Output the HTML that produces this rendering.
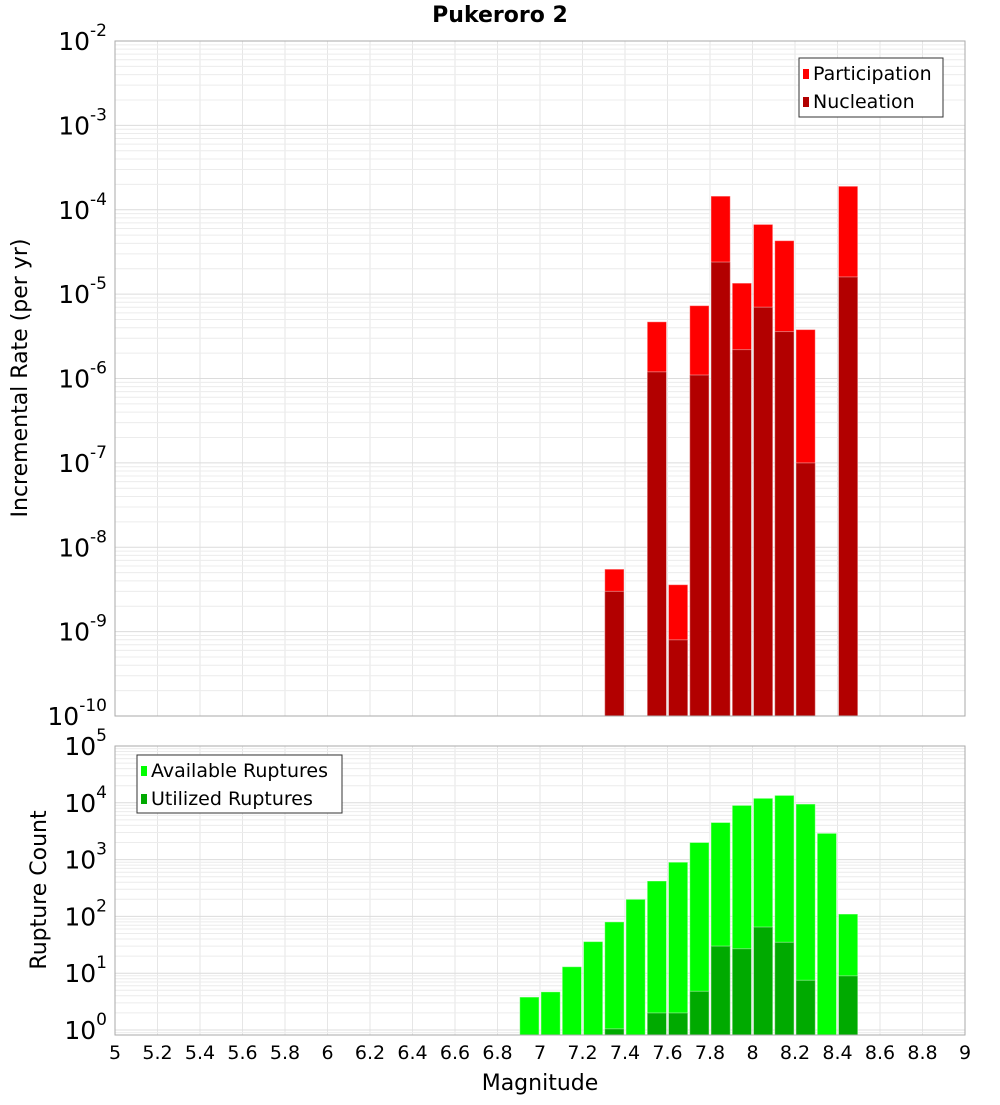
<!DOCTYPE html>
<html><head><meta charset="utf-8"><style>
body{margin:0;background:#fff;font-family:"Liberation Sans","DejaVu Sans",sans-serif}
svg text{font-family:"DejaVu Sans","Liberation Sans",sans-serif}
</style></head><body>
<svg id="c" width="1000" height="1100" xmlns="http://www.w3.org/2000/svg">
<text x="500" y="22" text-anchor="middle" font-size="22" font-weight="bold">Pukeroro 2</text>
</svg>
<script>
const mags = [7.35,7.55,7.65,7.75,7.85,7.95,8.05,8.15,8.25,8.45];
const participation = [5.5e-9,4.7e-6,3.6e-9,7.3e-6,1.45e-4,1.35e-5,6.7e-5,4.3e-5,3.8e-6,1.9e-4];
const nucleation = [3e-9,1.2e-6,8e-10,1.1e-6,2.4e-5,2.2e-6,7e-6,3.6e-6,1e-7,1.6e-5];
const countMags = [6.95,7.05,7.15,7.25,7.35,7.45,7.55,7.65,7.75,7.85,7.95,8.05,8.15,8.25,8.35,8.45];
const available = [3.8,4.7,13,36,80,200,420,900,2000,4500,9000,12000,13500,9500,2900,110];
const utilizedMags = [7.35,7.55,7.65,7.75,7.85,7.95,8.05,8.15,8.25,8.45];
const utilized = [1.05,2,2,4.8,30,27,65,35,7.5,9];
const xTicks = [5,5.2,5.4,5.6,5.8,6,6.2,6.4,6.6,6.8,7,7.2,7.4,7.6,7.8,8,8.2,8.4,8.6,8.8,9];
const topExps = [-10,-9,-8,-7,-6,-5,-4,-3,-2];
const botExps = [0,1,2,3,4,5];

const svg = document.getElementById('c');
const NS = 'http://www.w3.org/2000/svg';
function el(t, a, txt){const e=document.createElementNS(NS,t);for(const k in a)e.setAttribute(k,a[k]);if(txt!==undefined)e.textContent=txt;svg.appendChild(e);return e;}
const X0=115,X1=965;
const x = m => X0+(m-5)/4*(X1-X0);
// top axis
const T0=41,T1=716;
const yTop = v => T0+(-2-Math.log10(v))/8*(T1-T0);
// bottom axis: 10^5 at 746, 10^0 at 1030, bottom 1035
const B0=746,B1=1035,BD=(1030-746)/5;
const yBot = v => 1030-Math.log10(v)*BD;

function grid(top,bot,yf,decLo,decHi){
  for(const t of xTicks){const l=el('line',{x1:x(t),x2:x(t),y1:top,y2:bot,stroke:'#e6e6e6','stroke-width':1});
    }
  for(let d=decLo;d<=decHi;d++){for(let k=1;k<10;k++){const v=k*Math.pow(10,d);const yy=yf(v);
    if(yy<top-0.5||yy>bot+0.5)continue;
    const l=el('line',{x1:X0,x2:X1,y1:yy,y2:yy,stroke:k==1?'#dcdcdc':'#ececec','stroke-width':1});
    }}
}
grid(T0,T1,yTop,-11,-2);
grid(B0,B1,yBot,-1,5);

function bar(m,v,yf,base,color,name){
  const y=yf(v);const r=el('rect',{x:x(m-0.05)+1,y:y,width:x(m+0.05)-x(m-0.05)-2,height:base-y,fill:color,stroke:'rgba(255,255,255,0.4)','stroke-width':1});
  
}
mags.forEach((m,i)=>bar(m,participation[i],yTop,T1,'#ff0000','participation-bar'));
mags.forEach((m,i)=>bar(m,nucleation[i],yTop,T1,'#b20000','nucleation-bar'));
countMags.forEach((m,i)=>bar(m,available[i],yBot,B1,'#00ff00','available-bar'));
utilizedMags.forEach((m,i)=>bar(m,utilized[i],yBot,B1,'#00aa00','utilized-bar'));

// frames
let f=el('rect',{x:X0,y:T0,width:X1-X0,height:T1-T0,fill:'none',stroke:'#aaaaaa'});

f=el('rect',{x:X0,y:B0,width:X1-X0,height:B1-B0,fill:'none',stroke:'#aaaaaa'});


// y tick labels
function ylab(e,yy,name){
  const t=el('text',{x:107,y:yy+9,'text-anchor':'end','font-size':25});
  
  const a=document.createElementNS(NS,'tspan');a.textContent='10';t.appendChild(a);
  const b=document.createElementNS(NS,'tspan');b.setAttribute('dy','-14');b.setAttribute('font-size','17');b.textContent=String(e).replace('-','-');t.appendChild(b);
}
topExps.forEach(e=>ylab(e,yTop(Math.pow(10,e)),'top-y-tick-label'));
botExps.forEach(e=>ylab(e,yBot(Math.pow(10,e)),'bottom-y-tick-label'));
// x tick labels
xTicks.forEach(t=>{const l=el('text',{x:x(t),y:1059,'text-anchor':'middle','font-size':19},String(t));
  });

// axis titles
let a=el('text',{x:540,y:1090,'text-anchor':'middle','font-size':22},'Magnitude');

a=el('text',{x:0,y:0,'text-anchor':'middle','font-size':22,transform:'translate(27,378) rotate(-90)'},'Incremental Rate (per yr)');

a=el('text',{x:0,y:0,'text-anchor':'middle','font-size':22,transform:'translate(46,890) rotate(-90)'},'Rupture Count');


// legends
function legend(x0,y0,w,h,items,name){
  const r=el('rect',{x:x0,y:y0,width:w,height:h,fill:'#fff',stroke:'#333'});
  
  items.forEach((it,i)=>{
    const s=el('rect',{x:x0+4,y:y0+11+i*28,width:6,height:10,fill:it[1]});
    
    const t=el('text',{x:x0+14,y:y0+22+i*28,'font-size':19},it[0]);
    
  });
}
legend(799,58,144,59,[['Participation','#ff0000'],['Nucleation','#b20000']],'top-legend');
legend(137,755,205,58,[['Available Ruptures','#00ff00'],['Utilized Ruptures','#00aa00']],'bottom-legend');
</script>
</body></html>
